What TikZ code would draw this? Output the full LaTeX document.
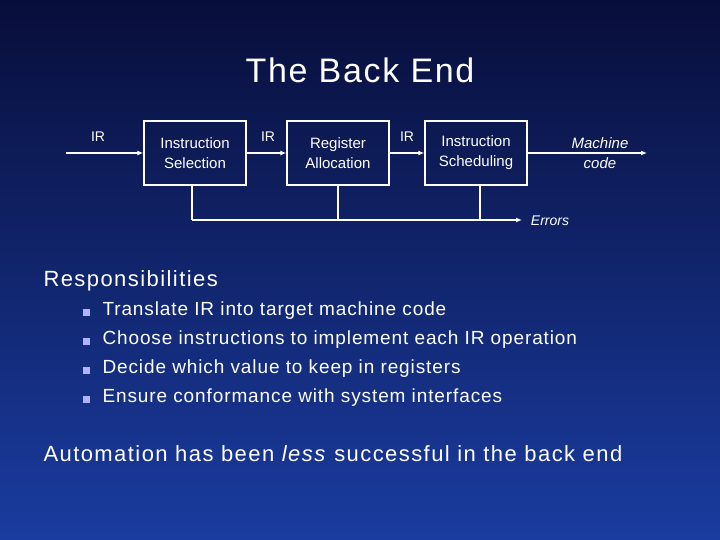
\documentclass[tikz,border=0pt]{standalone}
\usepackage{fontspec}
\usetikzlibrary{arrows.meta}
\setmainfont{Liberation Sans}
\begin{document}
\begin{tikzpicture}[x=1pt,y=-1pt,
  blk/.style={draw=white,line width=1.4pt,minimum width=102pt,minimum height=64pt,align=center,font=\fontsize{15}{20}\selectfont,text=white},
  lbl/.style={text=white,font=\fontsize{14}{18}\selectfont},
  ilbl/.style={text=white,font=\fontsize{15}{20}\selectfont\itshape,align=center},
  con/.style={draw=white,line width=1.4pt},
  arr/.style={con,-{Latex[length=6pt,width=5pt]}},
  item/.style={anchor=west,text=white,font=\fontsize{19}{22}\selectfont\addfontfeatures{LetterSpace=4.7}},
  big/.style={anchor=west,text=white,font=\fontsize{22}{26}\selectfont\addfontfeatures{LetterSpace=6.5}},
  bul/.style={fill=white!70!blue,minimum size=7pt,inner sep=0pt}]
\useasboundingbox (0,0) rectangle (720,540);
\shade[top color={rgb,255:red,8;green,14;blue,58},bottom color={rgb,255:red,26;green,60;blue,160}] (0,0) rectangle (720,540);
\node[text=white,font=\fontsize{34}{40}\selectfont\addfontfeatures{LetterSpace=5}] (title) at (360,70) {The Back End};
\node[blk] (b1) at (195,153) {Instruction\\Selection};
\node[blk] (b2) at (338,153) {Register\\Allocation};
\node[blk] (b3) at (476,153) {Instruction\\Scheduling};
\coordinate (in) at (66,153);
\coordinate (out) at (647,153);
\coordinate (eL) at (192,220);
\coordinate (eR) at (522,220);
\draw[arr] (in) -- (b1);
\draw[arr] (b1) -- (b2);
\draw[arr] (b2) -- (b3);
\draw[arr] (b3) -- (out);
\draw[con] (b1.south -| eL) -- (eL);
\draw[con] (b2.south) -- (b2.south |- eL);
\draw[con] (b3.south -| 480,0) -- (480,220);
\draw[arr] (eL) -- (eR);
\node[lbl] (ir1) at (98,137) {IR};
\node[lbl] (ir2) at (268,137) {IR};
\node[lbl] (ir3) at (407,137) {IR};
\node[ilbl] (mc) at (600,153) {Machine\\code};
\node[ilbl,font=\fontsize{14}{16}\selectfont\itshape] (err) at (550,221) {Errors};
\node[big] (resp) at (40,281) {Responsibilities};
\foreach \y/\t [count=\i] in {311/Translate IR into target machine code,340/Choose instructions to implement each IR operation,369/Decide which value to keep in registers,398/Ensure conformance with system interfaces}{
  \node[bul] (bu\i) at (86,\y+1) {};
  \node[item] (it\i) at (99,\y) {\t};
}
\node[big] (auto) at (40,454) {Automation has been \textit{less} successful in the back end};
\end{tikzpicture}
\end{document}
